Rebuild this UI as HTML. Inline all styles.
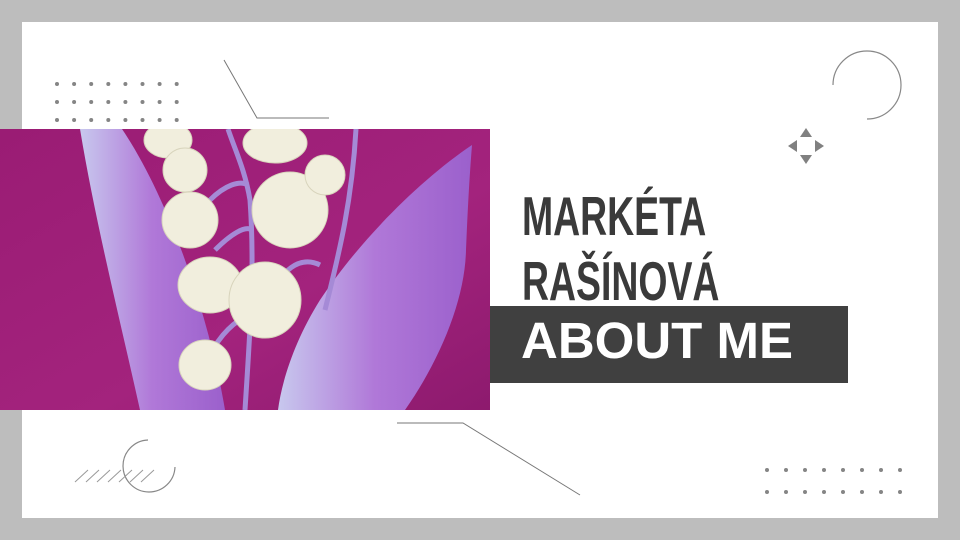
<!DOCTYPE html>
<html><head><meta charset="utf-8">
<style>
html,body{margin:0;padding:0}
body{width:960px;height:540px;position:relative;overflow:hidden;background:#bdbdbd;font-family:"Liberation Sans",sans-serif}
#card{position:absolute;left:22px;top:22px;width:916px;height:496px;background:#fff}
svg{position:absolute;left:0;top:0}
.t{position:absolute;left:522px;font-weight:bold;color:#3a3a3a;font-size:55px;line-height:1;transform-origin:0 0;transform:scaleX(0.68);white-space:nowrap}
#box{position:absolute;left:490px;top:306px;width:358px;height:77px;background:#404040}
#about{position:absolute;left:521px;top:315px;color:#fff;font-size:51px;font-weight:bold;line-height:1;white-space:nowrap}
</style></head><body>
<div id="card"></div>
<svg width="960" height="540">
  <g fill="#858585" id="dots1"></g>
  <g fill="#858585" id="dots2"></g>
  <polyline points="224,60 257,118 329,118" fill="none" stroke="#777" stroke-width="1"/>
  <polyline points="397,423 463,423 580,495" fill="none" stroke="#777" stroke-width="1"/>
  <path d="M833,85 A34,34 0 1 1 867,119" fill="none" stroke="#888" stroke-width="1.2"/>
  <path d="M148,440 A26,26 0 1 0 175,467" fill="none" stroke="#888" stroke-width="1.2"/>
  <g stroke="#999" stroke-width="1">
    <line x1="75" y1="482" x2="88" y2="470"/><line x1="86" y1="482" x2="99" y2="470"/>
    <line x1="97" y1="482" x2="110" y2="470"/><line x1="108" y1="482" x2="121" y2="470"/>
    <line x1="119" y1="482" x2="132" y2="470"/><line x1="130" y1="482" x2="143" y2="470"/>
    <line x1="141" y1="482" x2="154" y2="470"/>
  </g>
  <g fill="#808080">
    <polygon points="806,128 800,137 812,137"/><polygon points="806,164 800,155 812,155"/>
    <polygon points="788,146 797,140 797,152"/><polygon points="824,146 815,140 815,152"/>
  </g>
  <defs>
    <linearGradient id="bg" x1="0" y1="0" x2="1" y2="1"><stop offset="0" stop-color="#9a1c74"/><stop offset="0.6" stop-color="#a3237d"/><stop offset="1" stop-color="#8d1a6e"/></linearGradient>
    <linearGradient id="lf" x1="0" y1="0" x2="1" y2="0"><stop offset="0" stop-color="#c8c8ee"/><stop offset="0.5" stop-color="#b078d8"/><stop offset="1" stop-color="#9b60cc"/></linearGradient>
    <clipPath id="cp"><rect x="0" y="129" width="490" height="281"/></clipPath>
  </defs>
  <g clip-path="url(#cp)">
    <rect x="0" y="129" width="490" height="281" fill="url(#bg)"/>
    <path d="M80,129 L122,129 C170,200 210,320 225,410 L140,410 C120,320 95,220 80,129Z" fill="url(#lf)"/>
    <path d="M472,145 C420,180 360,240 320,300 C295,340 282,380 278,410 L405,410 C440,360 465,300 466,250 C468,200 470,170 472,145Z" fill="url(#lf)"/>
    <g stroke="#a58ad6" stroke-width="5" fill="none">
      <path d="M245,410 C250,330 255,270 250,200 C245,170 235,150 228,129"/>
      <path d="M325,310 C340,250 352,200 356,129"/>
      <path d="M210,355 C220,335 235,320 250,315"/>
      <path d="M270,300 C280,270 300,255 320,265"/>
      <path d="M215,250 C230,235 245,225 252,230"/>
      <path d="M210,200 C225,185 240,180 248,185"/>
    </g>
    <g fill="#f1eedd" stroke="#d8d4bc" stroke-width="1">
      <ellipse cx="168" cy="140" rx="24" ry="18"/>
      <ellipse cx="185" cy="170" rx="22" ry="22"/>
      <ellipse cx="190" cy="220" rx="28" ry="28"/>
      <ellipse cx="275" cy="143" rx="32" ry="20"/>
      <ellipse cx="290" cy="210" rx="38" ry="38"/>
      <ellipse cx="325" cy="175" rx="20" ry="20"/>
      <ellipse cx="210" cy="285" rx="32" ry="28"/>
      <ellipse cx="265" cy="300" rx="36" ry="38"/>
      <ellipse cx="205" cy="365" rx="26" ry="25"/>
    </g>
  </g>
</svg>
<div class="t" style="top:189px">MARKÉTA</div>
<div class="t" style="top:254px">RAŠÍNOVÁ</div>
<div id="box"></div>
<div id="about">ABOUT ME</div>
<script>
var ns="http://www.w3.org/2000/svg";
function grid(id,x0,y0,dx,dy,cols,rows,r){
  var g=document.getElementById(id);
  for(var j=0;j<rows;j++)for(var i=0;i<cols;i++){
    var c=document.createElementNS(ns,"circle");
    c.setAttribute("cx",x0+i*dx);c.setAttribute("cy",y0+j*dy);c.setAttribute("r",r);
    
    
    g.appendChild(c);
  }
}
grid("dots1",57,84,17.1,18,8,3,2);
grid("dots2",767,470,19,22,8,2,2);
</script>
</body></html>
